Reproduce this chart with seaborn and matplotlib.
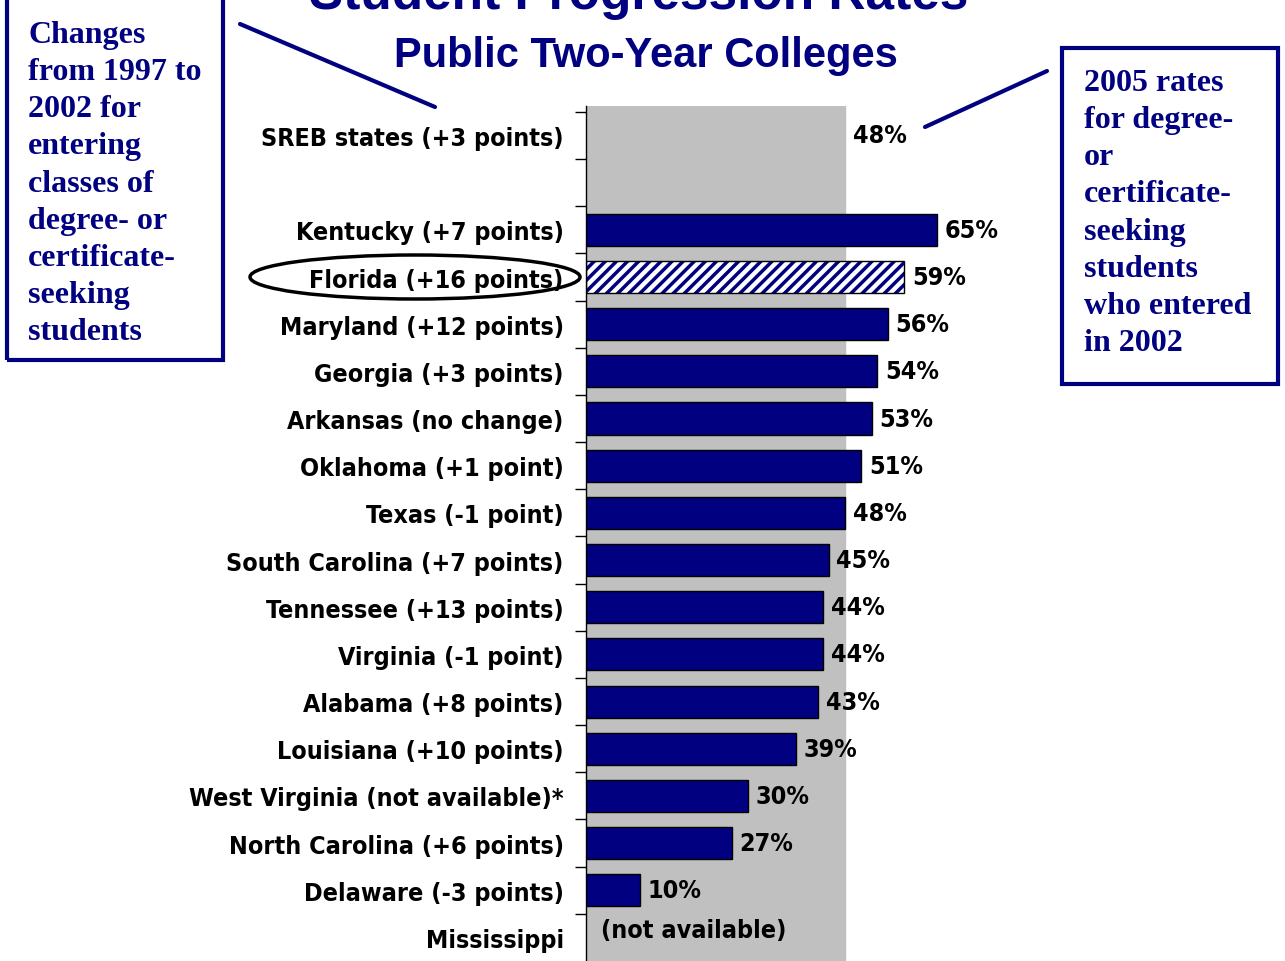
import matplotlib
matplotlib.use("Agg")
import matplotlib.pyplot as plt
import matplotlib.patches as patches
from matplotlib import font_manager
import seaborn as sns
import pandas as pd
import numpy as np

states = ['SREB states (+3 points)', '', 'Kentucky (+7 points)', 'Florida (+16 points)',
          'Maryland (+12 points)', 'Georgia (+3 points)', 'Arkansas (no change)',
          'Oklahoma (+1 point)', 'Texas (-1 point)', 'South Carolina (+7 points)',
          'Tennessee (+13 points)', 'Virginia (-1 point)', 'Alabama (+8 points)',
          'Louisiana (+10 points)', 'West Virginia (not available)*',
          'North Carolina (+6 points)', 'Delaware (-3 points)', 'Mississippi']
rates = [48, np.nan, 65, 59, 56, 54, 53, 51, 48, 45, 44, 44, 43, 39, 30, 27, 10, np.nan]
sreb_rate = 48
highlight = 'Florida (+16 points)'

navy = '#000080'
gray = '#c0c0c0'

sns.set_style('white')
plt.rcParams['hatch.linewidth'] = 2.5

# a narrow bold face if one is installed
names = {f.name for f in font_manager.fontManager.ttflist}
cond = dict(family='DejaVu Sans', fontstretch='condensed')
if 'Liberation Sans Narrow' in names:
    cond = dict(family='Liberation Sans Narrow')

df = pd.DataFrame({'state': states, 'rate': rates})
df['shown'] = df['rate']
df.loc[0, 'shown'] = np.nan  # SREB shown as the grey band

fig = plt.figure(figsize=(12.85, 9.62), dpi=100)
ax = fig.add_axes([0.456, 0.0, 0.336, 0.889])

ax.axvspan(0, sreb_rate, color=gray, zorder=0)

palette = {s: ('white' if s == highlight else navy) for s in states}
sns.barplot(data=df, x='shown', y='state', hue='state', palette=palette, legend=False,
            orient='h', width=0.68, edgecolor='black', linewidth=1, saturation=1, ax=ax)

# hatched Florida bar: navy stripes, black outline
fi = states.index(highlight)
for p in ax.patches:
    if isinstance(p, patches.Rectangle) and abs(p.get_y() + p.get_height() / 2 - fi) < 0.01:
        p.set_hatch('///')
        p.set_edgecolor(navy)
        p.set_linewidth(0)
ax.barh(fi, rates[fi], height=0.68, fill=False, edgecolor='black', linewidth=1, zorder=3)

# value labels
for i, v in enumerate(rates):
    if not np.isnan(v):
        ax.text(v + 1.4, i, f'{v:.0f}%', va='center', ha='left', fontsize=18,
                fontweight='bold', color='black', **cond)
ax.text(2.7, len(states) - 1.15, '(not available)', va='center', ha='left',
        fontsize=18, fontweight='bold', color='black', **cond)

ax.set_xlim(0, 80)
ax.set_ylim(len(states) - 0.5, -0.63)
ax.set_xlabel('')
ax.set_ylabel('')
ax.set_xticks([])
ax.set_yticks(range(len(states)))
ax.set_yticklabels(states, fontsize=18, fontweight='bold', color='black', **cond)
ax.set_yticks(np.arange(-0.5, len(states) - 0.5, 1), minor=True)
ax.tick_params(axis='y', which='major', length=0, pad=16)
ax.tick_params(axis='y', which='minor', length=8, width=1, color='black', left=True)
for s in ['top', 'right', 'bottom']:
    ax.spines[s].set_visible(False)
ax.spines['left'].set_color('black')
ax.spines['left'].set_linewidth(1)

# titles (top line is cut by the page edge, as in the original slide)
fig.text(0.497, 1.03, 'Student Progression Rates', ha='center', va='top', fontsize=37,
         fontweight='bold', color=navy, family='Liberation Sans')
fig.text(0.503, 0.942, 'Public Two-Year Colleges', ha='center', va='center', fontsize=30,
         fontweight='bold', color=navy, family='Liberation Sans')

# annotation boxes
box_kw = dict(fontsize=23, fontweight='bold', color=navy, family='Liberation Serif',
              linespacing=1.37, va='top', ha='left')
fig.patches.append(patches.Rectangle((7 / 1285, 1 - 361 / 962), 216 / 1285, 361 / 962 + 0.01,
                                     transform=fig.transFigure, fill=False, edgecolor=navy,
                                     linewidth=3))
fig.text(28 / 1285, 1 - 21 / 962,
         'Changes\nfrom 1997 to\n2002 for\nentering\nclasses of\ndegree- or\ncertificate-\nseeking\nstudents',
         **box_kw)
fig.patches.append(patches.Rectangle((1062 / 1285, 1 - 385 / 962), 216 / 1285, 336 / 962,
                                     transform=fig.transFigure, fill=False, edgecolor=navy,
                                     linewidth=3))
fig.text(1084 / 1285, 1 - 69 / 962,
         '2005 rates\nfor degree-\nor\ncertificate-\nseeking\nstudents\nwho entered\nin 2002',
         **box_kw)

# connector lines
fig.add_artist(plt.Line2D([240 / 1285, 435 / 1285], [1 - 25 / 962, 1 - 108 / 962],
                          transform=fig.transFigure, color=navy, linewidth=3))
fig.add_artist(plt.Line2D([925 / 1285, 1047 / 1285], [1 - 128 / 962, 1 - 72 / 962],
                          transform=fig.transFigure, color=navy, linewidth=3))

# ellipse round Florida
fig.add_artist(patches.Ellipse((415 / 1285, 1 - 278 / 962), 330 / 1285, 44 / 962,
                               transform=fig.transFigure, fill=False, edgecolor='black',
                               linewidth=2.5))

fig.savefig('out.png', dpi=100)
